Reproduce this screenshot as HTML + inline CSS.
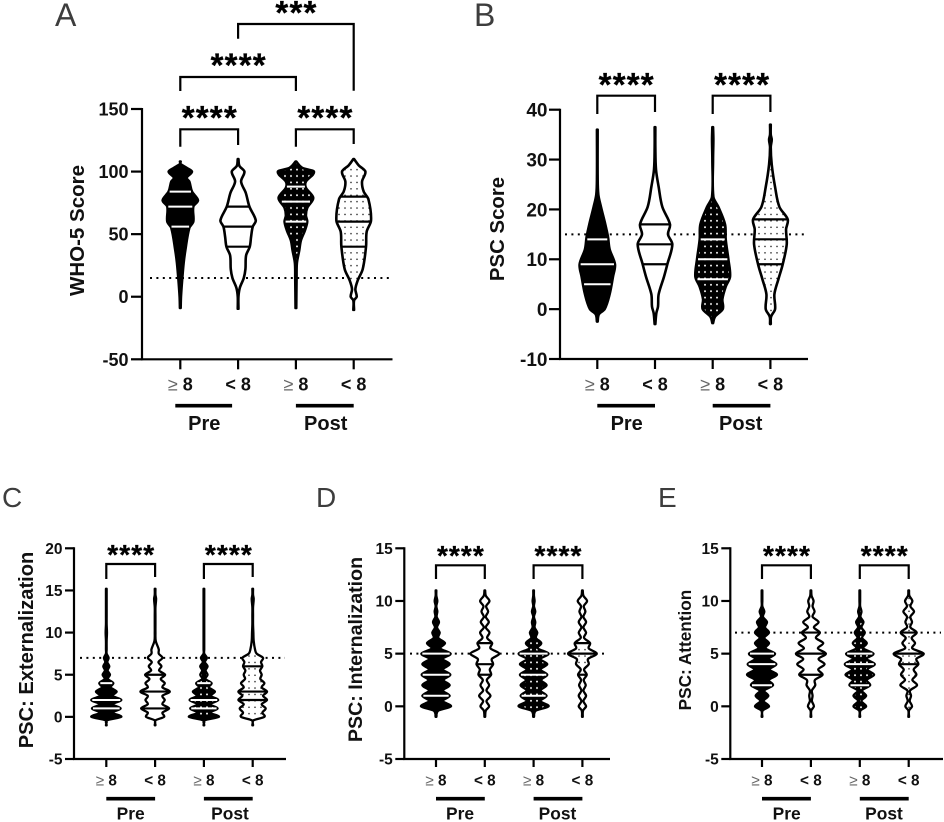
<!DOCTYPE html>
<html>
<head>
<meta charset="utf-8">
<title>Violin plots</title>
<style>
html,body{margin:0;padding:0;background:#fff;}
svg{display:block;font-family:"Liberation Sans",Arial,sans-serif;}
</style>
</head>
<body>
<svg id="figure" xmlns="http://www.w3.org/2000/svg" width="944" height="822" viewBox="0 0 944 822">
<defs>
<pattern id="dots-on-black" patternUnits="userSpaceOnUse" width="6" height="6.4"><rect width="6" height="6.4" fill="#000"/><circle cx="3" cy="3.2" r="0.95" fill="#fff"/></pattern>
<pattern id="dots-on-white" patternUnits="userSpaceOnUse" width="6" height="6.4"><rect width="6" height="6.4" fill="#fff"/><circle cx="3" cy="3.2" r="0.8" fill="#222"/></pattern>
</defs>
</svg>
<script>
// Shared category data
const categories = ["≥ 8", "< 8", "≥ 8", "< 8"];
const groups = ["Pre", "Post"];

// Panel A: WHO-5 Score
const aTicks = [150, 100, 50, 0, -50];
const aCutoff = 15;
const a1Values = [-9, 0, 15, 27, 37, 55, 60, 72, 77, 84, 92, 95, 100, 103, 106, 108];
const a1Density = [0, 5, 9, 13, 18, 30, 42, 42, 56, 38, 30, 22, 38, 22, 3, 0];
const a1Quartiles = [56, 72, 84];
const a2Values = [-9.6, 0, 7, 15, 22, 33, 40, 48, 56, 61, 72, 83, 92, 100, 104.5, 110];
const a2Density = [0, 3, 8, 20, 25, 27, 38, 42, 47, 56, 37, 26, 12, 22, 7, 0];
const a2Quartiles = [40, 56, 72];
const a3Values = [-9, 15, 27, 37, 45, 53, 60, 65, 71, 79, 87, 92, 100, 103, 108];
const a3Density = [0, 5, 6, 13, 18, 30, 37, 33, 37, 55, 33, 33, 57, 22, 0];
const a3Quartiles = [60, 76, 88];
const a4Values = [-10.5, -3, 0, 6, 13, 22, 40, 52, 61, 78, 84, 92, 100, 105, 110];
const a4Density = [0, 4, 12, 8, 15, 30, 40, 42, 55, 47, 33, 28, 38, 18, 0];
const a4Quartiles = [40, 60, 80];

// Panel B: PSC Score
const bTicks = [40, 30, 20, 10, 0, -10];
const bCutoff = 15;
const b1Values = [-2.5, -1, 0, 3, 6.5, 9, 12, 14.5, 17, 20.5, 23, 26.5, 36];
const b1Density = [0, 8, 25, 40, 50, 56, 40, 35, 27, 14, 6, 4, 0];
const b1Quartiles = [5, 9, 14];
const b2Values = [-3, -0.8, 0.5, 3, 6.5, 9, 13, 15, 17, 20.5, 24.5, 28, 32.5, 36.5];
const b2Density = [0, 7, 12, 14, 30, 40, 55, 42, 48, 25, 14, 6, 3, 0];
const b2Quartiles = [9, 13, 17];
const b3Values = [-2.8, -1.5, 0, 2, 4.5, 6.5, 10, 14, 17, 20.5, 22.5, 30, 34, 36.5];
const b3Density = [0, 10, 33, 32, 42, 55, 50, 42, 40, 20, 5, 3, 5, 0];
const b3Quartiles = [6, 10, 14];
const b4Values = [-3, -1.5, 0, 3, 6, 9, 13, 16, 18, 20.5, 24.5, 29, 32.5, 34, 35, 37];
const b4Density = [0, 5, 17, 15, 27, 40, 52, 50, 55, 30, 17, 7, 3, 7, 3, 0];
const b4Quartiles = [9, 14, 18];

// Panel C: PSC Externalization
const cTicks = [20, 15, 10, 5, 0, -5];
const cCutoff = 7;
const cValues = [-1, -0.4, 0, 0.5, 1, 1.5, 2, 2.5, 3, 3.5, 4, 4.5, 5, 5.5, 6, 6.5, 7, 7.5, 8, 9, 10, 11, 12, 13, 14, 14.5, 15.2];
const c1Density = [0, 6, 48, 22, 46, 22, 48, 22, 34, 16, 24, 8, 14, 7, 12, 6, 10, 3, 4, 3, 5, 3, 3, 3, 3, 2, 0];
const c1Quartiles = [1, 2, 4];
const c2Density = [0, 5, 30, 25, 45, 25, 32, 25, 47, 25, 32, 20, 33, 15, 22, 13, 25, 14, 14, 5, 4, 4, 4, 4, 6, 3, 0];
const c2Quartiles = [1, 3, 5];
const c3Density = [0, 6, 48, 22, 44, 22, 46, 24, 36, 18, 26, 8, 14, 8, 14, 6, 12, 3, 4, 3, 4, 3, 3, 3, 3, 2, 0];
const c3Quartiles = [1, 2, 4];
const c4Density = [0, 6, 38, 32, 42, 30, 46, 34, 46, 30, 38, 26, 30, 25, 32, 28, 34, 15, 10, 6, 5, 3, 3, 3, 6, 3, 0];
const c4Quartiles = [2, 3, 6];

// Panel D: PSC Internalization
const dTicks = [15, 10, 5, 0, -5];
const dCutoff = 5;
const dValues = [-1, -0.4, 0, 0.5, 1, 1.5, 2, 2.5, 3, 3.5, 4, 4.5, 5, 5.5, 6, 6.5, 7, 7.5, 8, 8.5, 9, 9.5, 10, 10.5, 11];
const d1Density = [0, 10, 48, 24, 44, 24, 44, 26, 46, 24, 44, 24, 47, 16, 30, 10, 14, 6, 12, 5, 7, 4, 7, 3, 0];
const d1Quartiles = [1, 3, 5];
const d2Density = [0, 6, 16, 8, 20, 8, 16, 9, 22, 18, 28, 24, 46, 20, 25, 10, 17, 6, 15, 6, 13, 7, 17, 6, 0];
const d2Quartiles = [3, 4, 6];
const d3Density = [0, 10, 48, 24, 42, 24, 42, 26, 44, 24, 44, 24, 48, 16, 26, 10, 14, 6, 8, 4, 8, 3, 6, 3, 0];
const d3Quartiles = [1, 3, 5];
const d4Density = [0, 5, 14, 6, 14, 6, 13, 7, 16, 8, 22, 20, 46, 22, 26, 8, 14, 6, 14, 6, 12, 7, 17, 6, 0];
const d4Quartiles = [3, 5, 6];

// Panel E: PSC Attention
const eTicks = [15, 10, 5, 0, -5];
const eCutoff = 7;
const eValues = [-1, -0.4, 0, 0.5, 1, 1.5, 2, 2.5, 3, 3.5, 4, 4.5, 5, 5.5, 6, 6.5, 7, 7.5, 8, 8.5, 9, 9.5, 10, 10.5, 11];
const e1Density = [0, 5, 24, 8, 22, 10, 36, 24, 48, 26, 46, 24, 42, 14, 24, 10, 24, 12, 18, 6, 10, 4, 3, 2, 0];
const e1Quartiles = [2, 4, 5];
const e2Density = [0, 4, 12, 6, 8, 6, 16, 15, 38, 25, 44, 26, 48, 24, 40, 18, 30, 12, 26, 8, 14, 8, 11, 5, 0];
const e2Quartiles = [3, 5, 7];
const e3Density = [0, 5, 22, 8, 22, 10, 34, 24, 46, 26, 48, 24, 44, 14, 24, 10, 18, 8, 14, 5, 8, 3, 3, 2, 0];
const e3Quartiles = [2, 4, 5];
const e4Density = [0, 4, 13, 6, 10, 7, 28, 14, 26, 18, 32, 26, 48, 14, 22, 12, 27, 8, 13, 8, 19, 8, 14, 5, 0];
const e4Quartiles = [4, 5, 7];

const panels = [
  {id:"a", letter:"A", letterX:55, letterY:26, letterSize:32, title:"WHO-5 Score", titleX:77.5, titleY:230.5, titleSize:20.5,
   ticks:aTicks, cutoff:aCutoff, axisX:142, top:109, bottom:359.3, xEnd:392.5, x0:180.3, step:57.8,
   tickLen:11, labelGap:2.5, tickSize:18, catSize:18, catY:384, barY:405.7, groupY:423, groupSize:20, groupX:[204.3,325.7],
   dotFrom:150, dotTo:391, lw:2.6, densityPeak:57, halfWidth:19,
   violins:[[a1Values,a1Density,a1Quartiles],[a2Values,a2Density,a2Quartiles],[a3Values,a3Density,a3Quartiles],[a4Values,a4Density,a4Quartiles]]},
  {id:"b", letter:"B", letterX:474, letterY:26, letterSize:32, title:"PSC Score", titleX:498, titleY:229, titleSize:20.4,
   ticks:bTicks, cutoff:bCutoff, axisX:560, top:109.7, bottom:359, xEnd:808, x0:597.3, step:57.7,
   tickLen:11, labelGap:1.5, tickSize:19, catSize:18, catY:384, barY:405.7, groupY:423, groupSize:20, groupX:[626.7,740.7],
   dotFrom:565, dotTo:808, lw:2.6, densityPeak:57, halfWidth:19,
   violins:[[b1Values,b1Density,b1Quartiles],[b2Values,b2Density,b2Quartiles],[b3Values,b3Density,b3Quartiles],[b4Values,b4Density,b4Quartiles]]},
  {id:"c", letter:"C", letterX:2, letterY:507, letterSize:28, title:"PSC: Externalization", titleX:27, titleY:650, titleSize:20.1,
   ticks:cTicks, cutoff:cCutoff, axisX:74, top:548.3, bottom:759, xEnd:286, x0:106.3, step:48.8,
   tickLen:9, labelGap:2.5, tickSize:15.5, catSize:15.3, catY:780, barY:798.7, groupY:813, groupSize:17.4, groupX:[130.7,230],
   dotFrom:80, dotTo:285, lw:2.3, densityPeak:48, halfWidth:16,
   violins:[[cValues,c1Density,c1Quartiles],[cValues,c2Density,c2Quartiles],[cValues,c3Density,c3Quartiles],[cValues,c4Density,c4Quartiles]]},
  {id:"d", letter:"D", letterX:316, letterY:507, letterSize:28, title:"PSC: Internalization", titleX:356, titleY:649.5, titleSize:19.6,
   ticks:dTicks, cutoff:dCutoff, axisX:404.3, top:548.3, bottom:759, xEnd:610, x0:436, step:48.8,
   tickLen:9, labelGap:2.5, tickSize:15.5, catSize:15.3, catY:780, barY:798.7, groupY:813, groupSize:17.4, groupX:[460,557.5],
   dotFrom:410, dotTo:607, lw:2.3, densityPeak:48, halfWidth:16,
   violins:[[dValues,d1Density,d1Quartiles],[dValues,d2Density,d2Quartiles],[dValues,d3Density,d3Quartiles],[dValues,d4Density,d4Quartiles]]},
  {id:"e", letter:"E", letterX:658, letterY:507, letterSize:28, title:"PSC: Attention", titleX:685, titleY:650, titleSize:17.2,
   ticks:eTicks, cutoff:eCutoff, axisX:730.3, top:548.3, bottom:759, xEnd:943, x0:762, step:48.9,
   tickLen:9, labelGap:2.5, tickSize:15.5, catSize:15.3, catY:780, barY:798.7, groupY:813, groupSize:17.4, groupX:[786.7,884],
   dotFrom:735, dotTo:941, lw:2.3, densityPeak:48, halfWidth:16,
   violins:[[eValues,e1Density,e1Quartiles],[eValues,e2Density,e2Quartiles],[eValues,e3Density,e3Quartiles],[eValues,e4Density,e4Quartiles]]}
];

// Significance annotations: [from category, to category, stars]
const significance = {
  a:[[0,1,"****",129.3,146.7,145,112.7],[2,3,"****",129.3,146.7,144,112.7],[0,2,"****",77,91,91,60],[1,3,"***",24,38.7,90.7,7.3]],
  b:[[0,1,"****",95.7,114,112,79.3],[2,3,"****",95.7,114,112,79.3]],
  c:[[0,1,"****",564,579,577,550],[2,3,"****",564,579,577,550]],
  d:[[0,1,"****",565.3,579,579,551],[2,3,"****",565.3,579,579,551]],
  e:[[0,1,"****",565.3,579,579,551],[2,3,"****",565.3,579,579,551]]
};

const svgNS = "http://www.w3.org/2000/svg";
const root = document.getElementById("figure");

function mk(parent, tag, attrs, name) {
  const el = document.createElementNS(svgNS, tag);
  for (const k in attrs) el.setAttribute(k, attrs[k]);
  
  
  parent.appendChild(el);
  return el;
}

function densityAt(values, density, v) {
  for (let i = 1; i < values.length; i++) {
    if (v <= values[i]) {
      const t = (v - values[i - 1]) / (values[i] - values[i - 1]);
      return density[i - 1] + t * (density[i] - density[i - 1]);
    }
  }
  return 0;
}

// Smooth outline through [x,y] points, monotone in y
function smoothSide(pts) {
  const tan = pts.map(function (pt, i) {
    const a = pts[Math.max(i - 1, 0)], b = pts[Math.min(i + 1, pts.length - 1)];
    return (b[0] - a[0]) / (b[1] - a[1]);
  });
  let d = "";
  for (let i = 1; i < pts.length; i++) {
    const h = (pts[i][1] - pts[i - 1][1]) / 3;
    d += " C" + (pts[i - 1][0] + tan[i - 1] * h).toFixed(2) + "," + (pts[i - 1][1] + h).toFixed(2) + " " +
         (pts[i][0] - tan[i] * h).toFixed(2) + "," + (pts[i][1] - h).toFixed(2) + " " +
         pts[i][0].toFixed(2) + "," + pts[i][1].toFixed(2);
  }
  return d;
}

panels.forEach(function (p) {
  const g = mk(root, "g", {}, "panel-" + p.id);
  const yMax = Math.max.apply(null, p.ticks);
  const yMin = Math.min.apply(null, p.ticks);
  const yScale = function (v) { return p.top + (yMax - v) * (p.bottom - p.top) / (yMax - yMin); };
  const xScale = function (i) { return p.x0 + i * p.step; };
  const wScale = function (d) { return d / p.densityPeak * p.halfWidth; };

  // panel letter
  const letter = mk(g, "text", {x:p.letterX, y:p.letterY, "font-size":p.letterSize, fill:"#3d3d3d"}, "panel-letter");
  letter.textContent = p.letter;

  // y-axis title
  const title = mk(g, "text", {transform:"translate(" + p.titleX + "," + p.titleY + ") rotate(-90)", "text-anchor":"middle", "dominant-baseline":"central", "font-size":p.titleSize, "font-weight":"bold", fill:"#111"}, "y-axis-title");
  title.textContent = p.title;

  // axes
  mk(g, "line", {x1:p.axisX, x2:p.axisX, y1:p.top - 1, y2:p.bottom + 1, stroke:"#000", "stroke-width":2.2}, "y-axis-line");
  mk(g, "line", {x1:p.axisX - 1, x2:p.xEnd, y1:p.bottom, y2:p.bottom, stroke:"#000", "stroke-width":2.2}, "x-axis-line");

  p.ticks.forEach(function (t) {
    mk(g, "line", {x1:p.axisX - p.tickLen, x2:p.axisX, y1:yScale(t), y2:yScale(t), stroke:"#000", "stroke-width":2.2}, "y-tick");
    const lab = mk(g, "text", {x:p.axisX - p.tickLen - p.labelGap, y:yScale(t) + p.tickSize * 0.36, "text-anchor":"end", "font-size":p.tickSize, "font-weight":"bold", fill:"#111"}, "y-tick-label");
    lab.textContent = t;
  });

  // cutoff dotted line
  mk(g, "line", {x1:p.dotFrom, x2:p.dotTo, y1:yScale(p.cutoff), y2:yScale(p.cutoff), stroke:"#000", "stroke-width":2, "stroke-dasharray":"2 4.4"}, "cutoff-line");

  // categories
  categories.forEach(function (c, i) {
    mk(g, "line", {x1:xScale(i), x2:xScale(i), y1:p.bottom, y2:p.bottom + p.tickLen - 1, stroke:"#000", "stroke-width":2.2}, "x-tick");
    const lab = mk(g, "text", {x:xScale(i), y:p.catY + p.catSize * 0.36, "text-anchor":"middle", "font-size":p.catSize, "font-weight":"bold", fill:"#111"}, "x-tick-label");
    if (c.charAt(0) === "≥") {
      const sym = mk(lab, "tspan", {"font-weight":"normal", fill:"#666"}, "greater-equal-symbol");
      sym.textContent = "≥";
      const rest = mk(lab, "tspan", {}, "threshold-value");
      rest.textContent = c.slice(1);
    } else {
      lab.textContent = c;
    }
  });

  // group bars + labels
  groups.forEach(function (name, k) {
    const first = k * 2;
    mk(g, "line", {x1:xScale(first) - (k === 0 && p.id === "a" ? 5 : 0), x2:xScale(first + 1) - (k === 0 && p.id === "a" ? 6 : 0), y1:p.barY, y2:p.barY, stroke:"#000", "stroke-width":3.6}, "group-bar-" + name.toLowerCase());
    const lab = mk(g, "text", {x:p.groupX[k], y:p.groupY + p.groupSize * 0.36, "text-anchor":"middle", "font-size":p.groupSize, "font-weight":"bold", fill:"#111"}, "group-label-" + name.toLowerCase());
    lab.textContent = name;
  });

  // violins
  p.violins.forEach(function (v, i) {
    const values = v[0], density = v[1], quartiles = v[2];
    const cx = xScale(i);
    const right = [], left = [];
    values.forEach(function (val, j) {
      const w = Math.max(wScale(density[j]) - 1, 0.35);
      right.push([cx + w, yScale(val)]);
      left.unshift([cx - w, yScale(val)]);
    });
    const filled = i % 2 === 0;
    let fill;
    if (i === 0) fill = "#000";
    else if (i === 1) fill = "#fff";
    else if (i === 2) fill = "url(#dots-on-black)";
    else fill = "url(#dots-on-white)";
    const d = "M" + right[0][0].toFixed(2) + "," + right[0][1].toFixed(2) + smoothSide(right) +
              " L" + left[0][0].toFixed(2) + "," + left[0][1].toFixed(2) + smoothSide(left) + " Z";
    mk(g, "path", {d:d, fill:fill, stroke:"#000", "stroke-width":p.lw, "stroke-linejoin":"round"}, "violin-" + p.id + (i + 1));
    quartiles.forEach(function (q, qi) {
      const hw = Math.max(wScale(densityAt(values, density, q)) - (filled ? 2 : 0.5), 0);
      mk(g, "line", {x1:cx - hw, x2:cx + hw, y1:yScale(q), y2:yScale(q), stroke:filled ? "#fff" : "#000", "stroke-width":filled ? 2 : 2.2}, "quartile-line-" + (qi + 1));
    });
  });

  // significance brackets
  significance[p.id].forEach(function (s) {
    const x1 = xScale(s[0]), x2 = xScale(s[1]);
    mk(g, "polyline", {points:x1 + "," + s[4] + " " + x1 + "," + s[3] + " " + x2 + "," + s[3] + " " + x2 + "," + s[5], fill:"none", stroke:"#000", "stroke-width":2.2}, "significance-bracket");
    const big = p.id === "a" || p.id === "b";
    const size = big ? 33 : 28;
    const spacing = big ? 1.2 : 1.1;
    const stars = mk(g, "text", {x:(x1 + x2) / 2 + spacing / 2, y:s[6] + size * 0.5, "text-anchor":"middle", "font-size":size, "font-weight":"bold", "letter-spacing":spacing, fill:"#000", stroke:"#000", "stroke-width":0.3}, "significance-stars");
    stars.textContent = s[2];
  });
});
</script>
</body>
</html>
